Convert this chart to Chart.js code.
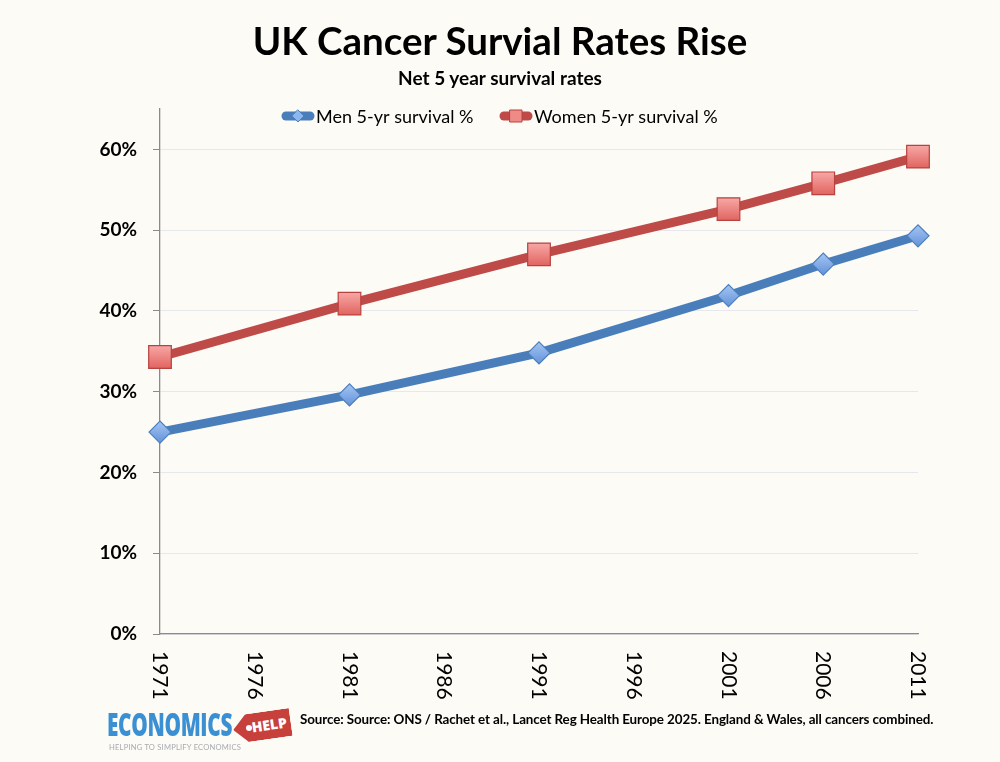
<!DOCTYPE html>
<html>
<head>
<meta charset="utf-8">
<script src="https://cdn.jsdelivr.net/npm/chart.js@4"></script>
<style>
  body { margin: 0; background: #fcfbf6; font-family: Lato, sans-serif; }
  #wrap { position: relative; width: 1000px; height: 762px; overflow: hidden; }
  #chart { position: absolute; left: 0; top: 0; }
  #title { position: absolute; top: 17px; width: 1000px; text-align: center; font-weight: bold; font-size: 38.5px; color: #000; }
  #subtitle { position: absolute; top: 66px; width: 1000px; text-align: center; font-weight: bold; font-size: 19px; color: #000; }
  #source { position: absolute; left: 300px; top: 711px; font-weight: bold; font-size: 13.4px; color: #000; letter-spacing: -0.1px; white-space: nowrap; }
  #logo { position: absolute; left: 107px; top: 706px; }
  #logo .eco { position: absolute; left: 0; top: 0; font-family: "Open Sans", sans-serif; font-weight: 800; font-size: 31px; line-height: 36px; color: #3b8fd3; letter-spacing: -0.5px; transform: scaleX(0.67); transform-origin: left; }
  #logo .tag { position: absolute; left: 126px; top: 6px; width: 58px; height: 28px; background: #c8403c; color: #fff; font-family: "Open Sans", sans-serif; font-weight: 800; font-size: 14px; line-height: 28px; text-align: right; padding-right: 4px; box-sizing: border-box; clip-path: polygon(24% 0, 100% 0, 100% 100%, 24% 100%, 0 50%); transform: rotate(-8deg); }
  #logo .dot { position: absolute; left: 139px; top: 19px; width: 6px; height: 6px; border-radius: 50%; background: #fff; }
  #logo .tagline { position: absolute; left: 2px; top: 36px; font-size: 7.6px; color: #a8aab0; white-space: nowrap; letter-spacing: 0.2px; }
</style>
</head>
<body>
<div id="wrap">
  <canvas id="chart" width="1000" height="762"></canvas>
  <div id="title">UK Cancer Survial Rates Rise</div>
  <div id="subtitle">Net 5 year survival rates</div>
  <div id="logo">
    <div class="eco">ECONOMICS</div>
    <div class="tag">HELP</div>
    <div class="dot"></div>
    <div class="tagline">HELPING TO SIMPLIFY ECONOMICS</div>
  </div>
  <div id="source">Source: Source: ONS / Rachet et al., Lancet Reg Health Europe 2025. England &amp; Wales, all cancers combined.</div>
</div>
<script>
// Data
const years = [1971, 1981, 1991, 2001, 2006, 2011];
const menSurvival = [25.0, 29.6, 34.8, 41.9, 45.8, 49.3];
const womenSurvival = [34.3, 40.9, 47.0, 52.6, 55.8, 59.1];
const xTickLabels = [1971, 1976, 1981, 1986, 1991, 1996, 2001, 2006, 2011];
const yTicks = [0, 10, 20, 30, 40, 50, 60];

const seriesNames = ['Men 5-yr survival %', 'Women 5-yr survival %'];
const lineColors = ['#4a7ebb', '#be4b48'];
const markerTop = ['#a9c8f5', '#f8aaa8'];
const markerBottom = ['#5f90d8', '#e0625e'];
const markerBorder = ['#4a7ebb', '#b8423f'];

function toPoints(vals) {
  return years.map((y, i) => ({ x: y, y: vals[i] }));
}

// gradient fill for the markers
function markerFill(idx) {
  return (ctx) => {
    const chart = ctx.chart;
    if (ctx.type !== 'data' || !chart.chartArea) return markerBottom[idx];
    const py = chart.scales.y.getPixelForValue(ctx.parsed.y);
    const g = chart.ctx.createLinearGradient(0, py - 12, 0, py + 12);
    g.addColorStop(0, markerTop[idx]);
    g.addColorStop(1, markerBottom[idx]);
    return g;
  };
}

// x tick labels, rotated clockwise
const xLabelsPlugin = {
  id: 'xLabels',
  afterDraw(chart) {
    const ctx = chart.ctx;
    const xs = chart.scales.x;
    ctx.save();
    ctx.font = '21px Lato';
    ctx.fillStyle = '#000';
    ctx.textAlign = 'left';
    ctx.textBaseline = 'middle';
    xTickLabels.forEach(v => {
      const px = xs.getPixelForValue(v);
      ctx.save();
      ctx.translate(px, chart.chartArea.bottom + 17);
      ctx.rotate(Math.PI / 2);
      ctx.fillText(String(v), 0, 0);
      ctx.restore();
    });
    ctx.restore();
  }
};

// legend: line with marker in the middle
const legendPlugin = {
  id: 'lineLegend',
  afterDraw(chart) {
    const ctx = chart.ctx;
    const items = [{ x: 282, idx: 0, shape: 'diamond' }, { x: 500, idx: 1, shape: 'square' }];
    const y = 116;
    ctx.save();
    items.forEach(it => {
      ctx.strokeStyle = lineColors[it.idx];
      ctx.lineWidth = 9;
      ctx.lineCap = 'round';
      ctx.beginPath();
      ctx.moveTo(it.x + 4, y);
      ctx.lineTo(it.x + 28, y);
      ctx.stroke();
      ctx.fillStyle = it.idx === 0 ? '#8db5ee' : '#f08a87';
      ctx.strokeStyle = markerBorder[it.idx];
      ctx.lineWidth = 1;
      ctx.beginPath();
      if (it.shape === 'square') {
        ctx.rect(it.x + 10, y - 6, 12, 12);
      } else {
        ctx.moveTo(it.x + 16, y - 6); ctx.lineTo(it.x + 22, y);
        ctx.lineTo(it.x + 16, y + 6); ctx.lineTo(it.x + 10, y);
        ctx.closePath();
      }
      ctx.fill();
      ctx.stroke();
      ctx.font = '18px Lato';
      ctx.fillStyle = '#000';
      ctx.textAlign = 'left';
      ctx.textBaseline = 'middle';
      ctx.fillText(seriesNames[it.idx], it.x + 34, y + 1);
    });
    ctx.restore();
  }
};

new Chart(document.getElementById('chart'), {
  type: 'line',
  data: {
    datasets: [
      {
        label: seriesNames[0],
        data: toPoints(menSurvival),
        borderColor: lineColors[0],
        borderWidth: 9,
        pointStyle: 'rectRot',
        pointRadius: 11,
        pointBorderWidth: 1.2,
        pointBorderColor: markerBorder[0],
        pointBackgroundColor: markerFill(0),
        tension: 0,
        clip: false
      },
      {
        label: seriesNames[1],
        data: toPoints(womenSurvival),
        borderColor: lineColors[1],
        borderWidth: 9,
        pointStyle: 'rect',
        pointRadius: 16,
        pointBorderWidth: 1.2,
        pointBorderColor: markerBorder[1],
        pointBackgroundColor: markerFill(1),
        tension: 0,
        clip: false
      }
    ]
  },
  options: {
    responsive: false,
    animation: false,
    layout: { padding: { left: 0, right: 82, top: 109, bottom: 0 } },
    plugins: {
      legend: { display: false },
      tooltip: { enabled: false }
    },
    scales: {
      x: {
        type: 'linear',
        min: 1971,
        max: 2011,
        grid: { display: false },
        border: { display: true, color: '#8a8a8a', width: 1.3 },
        ticks: { display: false },
        afterFit: (s) => { s.height = 128; }
      },
      y: {
        min: 0,
        max: 65,
        afterBuildTicks: (s) => { s.ticks = yTicks.map(v => ({ value: v })); },
        afterFit: (s) => { s.width = 160; },
        grid: { color: '#e6e8ee', lineWidth: 1, tickLength: 7, tickColor: '#8a8a8a' },
        border: { display: true, color: '#8a8a8a', width: 1.3 },
        ticks: {
          padding: 16,
          color: '#000',
          font: { family: 'Lato', size: 19, weight: 'bold' },
          callback: (v) => v + '%'
        }
      }
    }
  },
  plugins: [xLabelsPlugin, legendPlugin]
});
</script>
</body>
</html>
